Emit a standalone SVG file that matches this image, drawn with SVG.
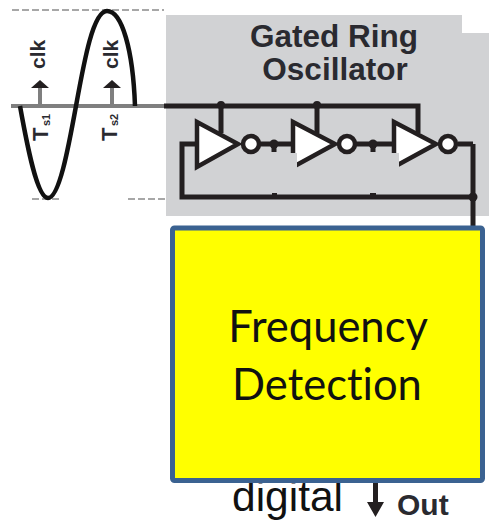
<svg xmlns="http://www.w3.org/2000/svg" width="489" height="520" viewBox="0 0 489 520">
<style>
.w{fill:none;stroke:#231f20;stroke-width:5}
.inv{fill:#fff;stroke:#231f20;stroke-width:4.500}
.d{fill:#231f20}
.t{font-family:"Liberation Sans",Arial,sans-serif;font-weight:bold;fill:#2a2a30}
.ax{fill:none;stroke:#7f7f7f;stroke-width:4}
.dash{stroke:#8a8a8a;stroke-width:1.500;stroke-dasharray:7 3;fill:none}
.patch{fill:#d1d2d4}
.big{font-family:Lato,"Open Sans",sans-serif;font-size:43.500px;fill:#111;text-anchor:middle;font-variant-ligatures:none}
</style>
<rect width="489" height="520" fill="#fff"/>
<polygon id="bg" points="166,15 462,15 462,33 489,33 489,216 166,216" fill="#d1d2d4"/>
<g id="waveform">
<path class="dash" d="M12 10H164M32 199H59M128 199H165"/>
<path class="ax" d="M11 106H166"/>
<path class="ax" d="M40 106V88M112 106V88"/>
<path class="d" d="M31 88L40 80L49 88ZM103 88L112 80L121 88Z"/>
<path fill="none" stroke="#111" stroke-width="4.500" d="M20 106C27 145 37 198 48 198C59 198 68 150 76 106C84 62 93 11 107 11C122 11 133 50 135 106"/>
<text class="t" transform="translate(45,69) rotate(-90)" font-size="21">clk</text>
<text class="t" transform="translate(118,69) rotate(-90)" font-size="21">clk</text>
<text class="t" transform="translate(48,141) rotate(-90)" font-size="22" fill="#444">T</text>
<text class="t" transform="translate(50,126) rotate(-90)" font-size="11" fill="#555">s1</text>
<text class="t" transform="translate(117,141) rotate(-90)" font-size="22" fill="#444">T</text>
<text class="t" transform="translate(118,126) rotate(-90)" font-size="11" fill="#555">s2</text>
</g>
<g id="connectors">
<path class="w" d="M164 106H418V133M221 106V133M317 106V133"/>
<path class="w" d="M195 144H182V197H473M473 144H458M473 144V230"/>
<path class="w" d="M258 144H292M356 144H394"/>
<path class="w" d="M274 144V152M373 144V152"/>
<circle class="d" cx="221" cy="105" r="4"/>
<circle class="d" cx="317" cy="105" r="4"/>
<circle class="d" cx="274" cy="144" r="4.500"/>
<circle class="d" cx="373" cy="144" r="4.500"/>
<circle class="d" cx="473" cy="197" r="4.500"/>
<path class="d" d="M272 193h5v3h-5zM370 193h6v3h-6z"/>
<path class="d" d="M373 480H378V502H384L375.500 517L367 502H373Z"/>
</g>
<g id="inv1"><polygon class="inv" points="197,122 197,167 238,144"/><circle class="inv" cx="251" cy="144" r="8"/></g>
<g id="inv2"><polygon class="inv" points="293,122 293,167 335,144"/><circle class="inv" cx="347" cy="144" r="8"/><rect class="patch" x="290" y="153" width="7" height="18"/></g>
<g id="inv3"><polygon class="inv" points="394,122 394,167 436,144"/><circle class="inv" cx="448" cy="144" r="8"/><rect class="patch" x="391" y="153" width="8" height="18"/></g>
<g id="title">
<text class="t" x="334" y="47" font-size="31.500" text-anchor="middle">Gated Ring</text>
<text class="t" x="335" y="80" font-size="31.500" text-anchor="middle">Oscillator</text>
</g>
<text id="digital" x="232" y="511" font-family="'Liberation Sans',Arial,sans-serif" font-size="42.500" fill="#111">digital</text>
<g id="freq">
<rect x="172.500" y="228" width="310" height="252.500" rx="2" fill="#ff0" stroke="#3b6291" stroke-width="5"/>
<text class="big" x="328" y="342">Frequency</text>
<text class="big" x="327" y="400">Detection</text>
</g>
<text id="out" class="t" x="397" y="514.500" font-size="30">Out</text>
</svg>
